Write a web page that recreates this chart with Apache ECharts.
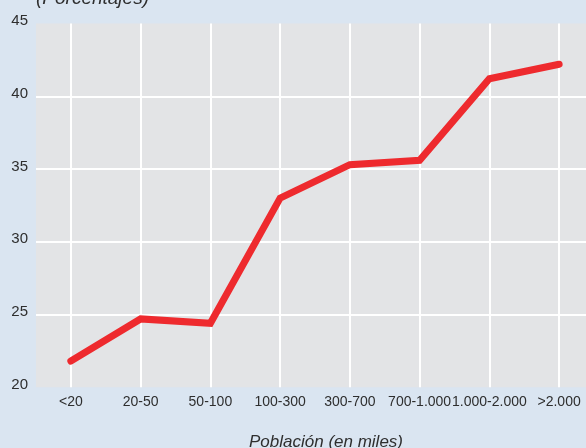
<!DOCTYPE html>
<html>
<head>
<meta charset="utf-8">
<style>
  html, body { margin: 0; padding: 0; background: #dae5f1; }
  #chart { width: 586px; height: 448px; }
</style>
<script src="https://cdn.jsdelivr.net/npm/echarts@6/dist/echarts.min.js"></script>
</head>
<body>
<div id="chart"></div>
<script>
// Population size bands (thousands of inhabitants)
const categories = ['<20', '20-50', '50-100', '100-300', '300-700', '700-1.000', '1.000-2.000', '>2.000'];
// Percentage per band
const values = [21.8, 24.7, 24.4, 33.0, 35.3, 35.6, 41.2, 42.2];
// Y axis scale
const yMin = 20, yMax = 45, yStep = 5;

const FONT = '"Liberation Sans", Arial, sans-serif';
const chart = echarts.init(document.getElementById('chart'), null, { renderer: 'canvas' });

chart.setOption({
  backgroundColor: '#dae5f1',
  animation: false,
  title: {
    text: '(Porcentajes)',
    left: 36,
    top: -11,
    padding: 0,
    textStyle: { fontFamily: FONT, fontStyle: 'italic', fontWeight: 'normal', fontSize: 19, color: '#2e2e2e' }
  },
  // plot runs past the right edge of the canvas
  grid: {
    left: 36, width: 558, top: 23.5, height: 363.8,
    outerBoundsMode: 'none', containLabel: false,
    show: true, backgroundColor: '#e3e4e6', borderWidth: 0
  },
  xAxis: {
    type: 'category',
    data: categories,
    boundaryGap: true,
    axisLine: { show: false },
    axisTick: { show: false },
    axisLabel: { fontFamily: FONT, fontSize: 14, color: '#2e2e2e', margin: 8, interval: 0, hideOverlap: false },
    splitLine: { show: true, alignWithLabel: true, interval: 0, lineStyle: { color: '#ffffff', width: 2 } }
  },
  yAxis: {
    type: 'value',
    min: yMin,
    max: yMax,
    interval: yStep,
    axisLine: { show: false },
    axisTick: { show: false },
    axisLabel: { fontFamily: FONT, fontSize: 15, color: '#2e2e2e', margin: 8, verticalAlign: 'bottom', lineHeight: 5 },
    splitLine: { show: true, showMinLine: false, showMaxLine: false, lineStyle: { color: '#ffffff', width: 2 } }
  },
  graphic: [{
    type: 'text',
    x: 326,
    y: 442,
    style: { text: 'Población (en miles)', font: 'italic 17px ' + FONT, fill: '#2e2e2e', align: 'center', verticalAlign: 'middle' }
  }],
  series: [{
    type: 'line',
    data: values,
    showSymbol: false,
    lineStyle: { color: '#ee2a2e', width: 7, cap: 'round', join: 'miter' },
    z: 3
  }]
});
</script>
</body>
</html>
